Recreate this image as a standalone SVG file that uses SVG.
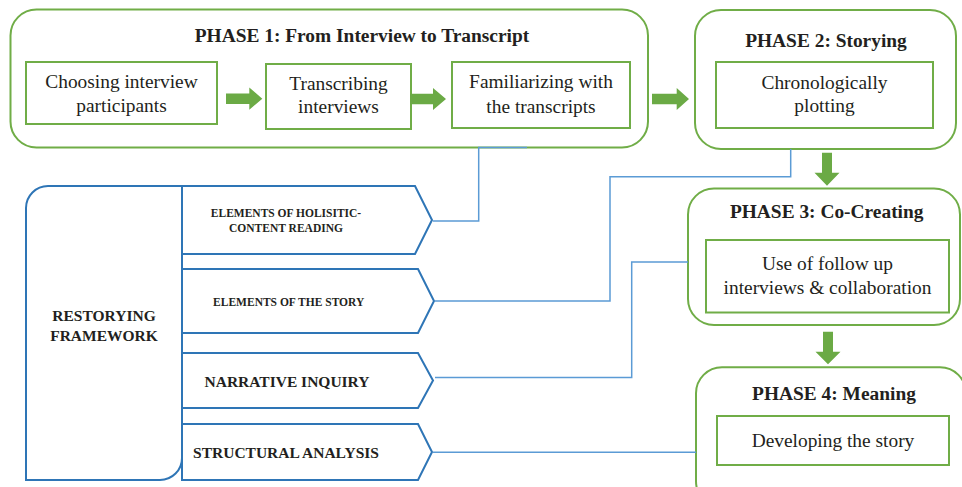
<svg xmlns="http://www.w3.org/2000/svg" width="962" height="487" viewBox="0 0 962 487">
<style>
.phase{fill:#fff;stroke:#70AD47;stroke-width:2}
.inner{fill:#fff;stroke:#70AD47;stroke-width:2}
.garrow{fill:#6BAA45}
.chev{fill:#fff;stroke:#2E75B6;stroke-width:2;stroke-linejoin:miter}
.conn{fill:none;stroke:#5B9BD5;stroke-width:1.5}
.t{font-family:"Liberation Serif","Times New Roman",serif;fill:#231F20;text-anchor:middle}
.title{font-size:19.4px;font-weight:bold}
.body{font-size:19.4px}
.big{font-size:15.5px;font-weight:bold}
.small{font-size:11.5px;font-weight:bold}
</style>
<rect width="962" height="487" fill="#fff"/>

<g id="phase1">
<rect class="phase" x="10.5" y="9.5" width="637.5" height="138" rx="26"/>
<text class="t title" x="362" y="41.7">PHASE 1: From Interview to Transcript</text>
<g id="p1-choosing">
<rect class="inner" x="26" y="62" width="191" height="62"/>
<text class="t body" x="121.5" y="87.5">Choosing interview</text>
<text class="t body" x="121.5" y="111.5">participants</text>
</g>
<g id="p1-transcribing">
<rect class="inner" x="266" y="64" width="145" height="65"/>
<text class="t body" x="338.5" y="90">Transcribing</text>
<text class="t body" x="338.5" y="113">interviews</text>
</g>
<g id="p1-familiarizing">
<rect class="inner" x="452" y="62" width="178" height="66"/>
<text class="t body" x="541" y="88.3">Familiarizing with</text>
<text class="t body" x="541" y="112.5">the transcripts</text>
</g>
</g>

<g id="phase2">
<rect class="phase" x="695" y="10" width="261" height="139" rx="26"/>
<text class="t title" x="826" y="46.7">PHASE 2: Storying</text>
<rect class="inner" x="716" y="62" width="217" height="66"/>
<text class="t body" x="824.5" y="89.3">Chronologically</text>
<text class="t body" x="824.5" y="112">plotting</text>
</g>

<g id="phase3">
<rect class="phase" x="688" y="188.5" width="272" height="136.5" rx="26"/>
<text class="t title" x="826.7" y="218.3">PHASE 3: Co-Creating</text>
<rect class="inner" x="706" y="240" width="243" height="72.5"/>
<text class="t body" x="827.5" y="270">Use of follow up</text>
<text class="t body" x="827.5" y="294">interviews &amp; collaboration</text>
</g>

<g id="phase4">
<rect class="phase" x="696" y="367.3" width="270" height="140" rx="26"/>
<text class="t title" x="834" y="400">PHASE 4: Meaning</text>
<rect class="inner" x="717" y="416" width="232" height="49"/>
<text class="t body" x="833" y="446.7">Developing the story</text>
</g>

<g id="green-arrows">
<polygon class="garrow" points="226,93.4 249.3,93.4 249.3,87.6 262.3,98.7 249.3,109.8 249.3,104 226,104"/>
<polygon class="garrow" points="410,93.8 433,93.8 433,88 446,99 433,110 433,104.2 410,104.2"/>
<polygon class="garrow" points="652,93.8 676.7,93.8 676.7,88 689,99 676.7,110 676.7,104.2 652,104.2"/>
<polygon class="garrow" points="822,152.7 832,152.7 832,172.7 839.5,172.7 827,185.7 814.5,172.7 822,172.7"/>
<polygon class="garrow" points="823,331.7 833,331.7 833,351.7 840.5,351.7 828,364.3 815.5,351.7 823,351.7"/>
</g>

<g id="restorying-framework">
<path class="chev" d="M182,186 H48 A22,22 0 0 0 26,208 V480 H160 A22,22 0 0 0 182,458 Z"/>
<text class="t big" x="104" y="320.7">RESTORYING</text>
<text class="t big" x="104" y="340.7">FRAMEWORK</text>
</g>

<g id="chev-holistic">
<polygon class="chev" points="182,186 415,186 432,220 415,254 182,254"/>
<text class="t small" x="286" y="217.3">ELEMENTS OF HOLISITIC-</text>
<text class="t small" x="286" y="232">CONTENT READING</text>
</g>
<g id="chev-story">
<polygon class="chev" points="182,269 418,269 434,301 418,333 182,333"/>
<text class="t small" x="288.7" y="306">ELEMENTS OF THE STORY</text>
</g>
<g id="chev-narrative">
<polygon class="chev" points="182,353 418,353 433,380.5 418,408 182,408"/>
<text class="t big" x="287" y="386.7">NARRATIVE INQUIRY</text>
</g>
<g id="chev-structural">
<polygon class="chev" points="182,424 418,424 432,452 418,480 182,480"/>
<text class="t big" x="286" y="458.3">STRUCTURAL ANALYSIS</text>
</g>

<g id="connectors">
<path class="conn" d="M433,221 H478.7 V147.5 H527"/>
<path class="conn" d="M435,301 H610 V176.7 H790.7 V149"/>
<path class="conn" d="M435,377.5 H631.7 V262 H688"/>
<path class="conn" d="M433,452.3 H696"/>
</g>
</svg>
